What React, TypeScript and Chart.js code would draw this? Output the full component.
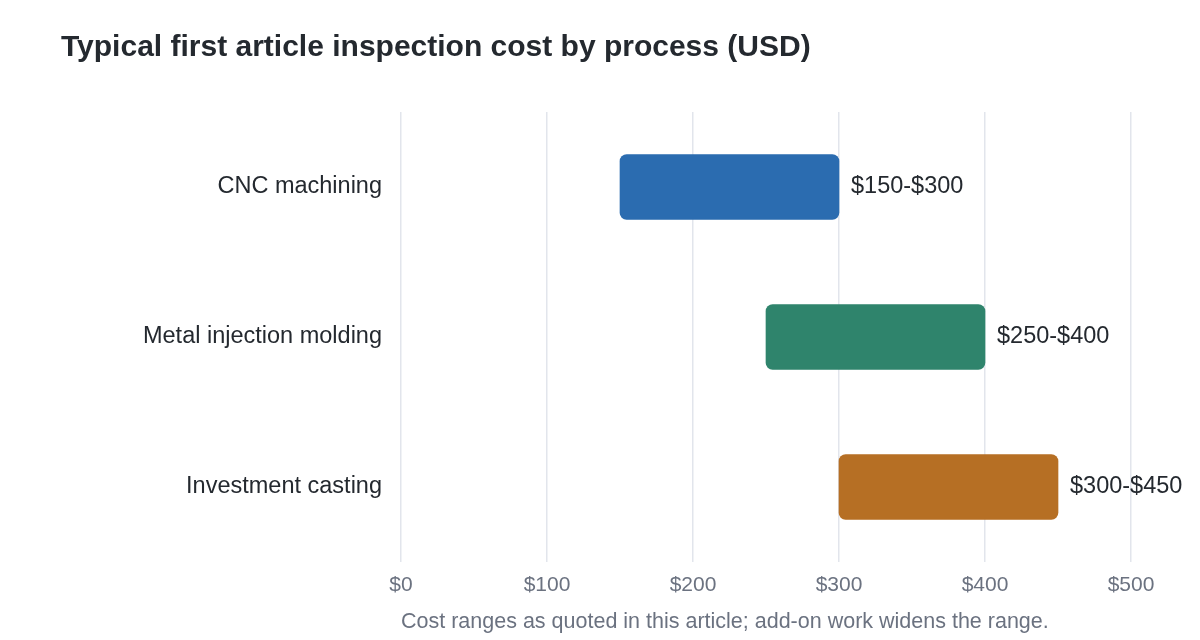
import { useRef, useEffect } from "react"
import React from "react"
import Chart from "chart.js/auto"

const processes = ["CNC machining", "Metal injection molding", "Investment casting"]
const lowCost = [150, 250, 300]
const highCost = [300, 400, 450]
const barColors = ["#2b6cb0", "#2f846c", "#b66f24"]
const xTicks = [0, 100, 200, 300, 400, 500]

const FONT = "'Liberation Sans', Arial, sans-serif"

const rangeLabels = {
    id: "rangeLabels",
    afterDatasetsDraw(chart: any) {
        const ctx = chart.ctx
        const meta = chart.getDatasetMeta(0)
        ctx.save()
        ctx.font = `23.5px ${FONT}`
        ctx.fillStyle = "#24292f"
        ctx.textAlign = "left"
        ctx.textBaseline = "middle"
        meta.data.forEach((bar: any, i: number) => {
            ctx.fillText(`$${lowCost[i]}-$${highCost[i]}`, bar.x + 12, bar.y)
        })
        ctx.restore()
    },
}

const App: React.FC = () => {
    const chartRef = useRef<HTMLCanvasElement>(null)
    const chartValueRef = useRef<Chart>()

    useEffect(() => {
        document.body.style.margin = "0"
        if (chartRef.current) {
            if (chartValueRef.current) {
                chartValueRef.current.destroy()
            }
            const ctx = chartRef.current.getContext("2d")
            if (ctx) {
                chartValueRef.current = new Chart(ctx, {
                    type: "bar",
                    data: {
                        labels: processes,
                        datasets: [
                            {
                                data: processes.map((_, i) => [lowCost[i], highCost[i]]) as any,
                                backgroundColor: barColors,
                                borderRadius: 7,
                                borderSkipped: false,
                                barThickness: 65,
                            },
                        ],
                    },
                    options: {
                        indexAxis: "y",
                        animation: false,
                        responsive: true,
                        maintainAspectRatio: false,
                        layout: { padding: { left: 61, right: 69, top: 20, bottom: 5 } },
                        scales: {
                            x: {
                                min: 0,
                                max: 500,
                                afterBuildTicks: (scale: any) => {
                                    scale.ticks = xTicks.map((v) => ({ value: v }))
                                },
                                grid: { color: "#e2e5ec", lineWidth: 1.5, drawTicks: false },
                                border: { display: false },
                                ticks: {
                                    padding: 11,
                                    color: "#6b7280",
                                    font: { family: FONT, size: 21 },
                                    callback: (v: any) => `$${v}`,
                                },
                                title: {
                                    display: true,
                                    text: "Cost ranges as quoted in this article; add-on work widens the range.",
                                    align: "start",
                                    color: "#6b7280",
                                    font: { family: FONT, size: 21.5 },
                                    padding: { top: 0, bottom: 0 },
                                },
                            },
                            y: {
                                grid: { display: false, drawTicks: false },
                                border: { display: false },
                                afterFit: (scale: any) => {
                                    scale.width = 340
                                },
                                ticks: {
                                    padding: 19,
                                    color: "#24292f",
                                    font: { family: FONT, size: 23.5 },
                                },
                            },
                        },
                        plugins: {
                            legend: { display: false },
                            tooltip: { enabled: false },
                            title: {
                                display: true,
                                text: "Typical first article inspection cost by process (USD)",
                                align: "start",
                                color: "#24292f",
                                font: { family: FONT, size: 30, weight: "bold" },
                                padding: { top: 10, bottom: 46 },
                            },
                        },
                    },
                    plugins: [rangeLabels],
                })
            }
        }
        return () => {
            if (chartValueRef.current) {
                chartValueRef.current.destroy()
            }
        }
    }, [])

    return (
        <div style={{ position: "relative", width: 1200, height: 640 }}>
            <canvas ref={chartRef} />
        </div>
    )
}

export default App
